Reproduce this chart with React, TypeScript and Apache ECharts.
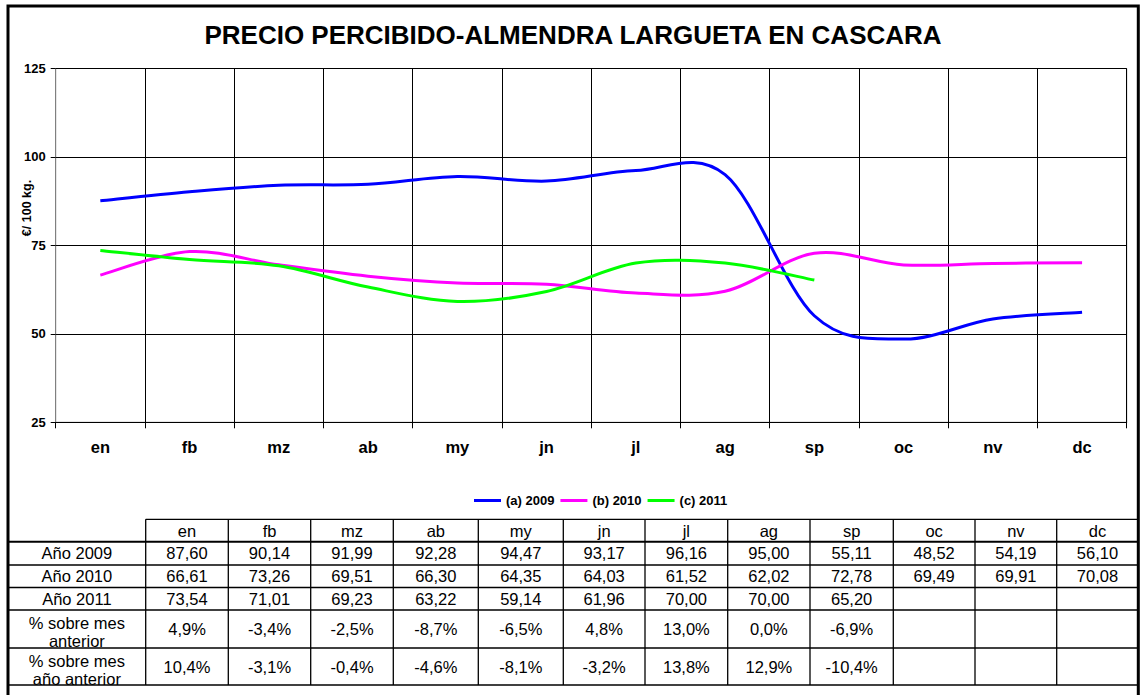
import React, { useEffect, useRef } from 'react';
import * as echarts from 'echarts';

const FONT = '"Liberation Sans", Arial, sans-serif';

const months = ['en', 'fb', 'mz', 'ab', 'my', 'jn', 'jl', 'ag', 'sp', 'oc', 'nv', 'dc'];
const seriesNames = ['(a) 2009', '(b) 2010', '(c) 2011'];
const seriesColors = ['#0000FF', '#FF00FF', '#00FF00'];
const values2009 = [87.6, 90.14, 91.99, 92.28, 94.47, 93.17, 96.16, 95.0, 55.11, 48.52, 54.19, 56.1];
const values2010 = [66.61, 73.26, 69.51, 66.3, 64.35, 64.03, 61.52, 62.02, 72.78, 69.49, 69.91, 70.08];
const values2011 = [73.54, 71.01, 69.23, 63.22, 59.14, 61.96, 70.0, 70.0, 65.2, null, null, null];
const pctPrevMonth = [4.9, -3.4, -2.5, -8.7, -6.5, 4.8, 13.0, 0.0, -6.9, null, null, null];
const pctPrevYear = [10.4, -3.1, -0.4, -4.6, -8.1, -3.2, 13.8, 12.9, -10.4, null, null, null];
const rowLabels = ['Año 2009', 'Año 2010', 'Año 2011', '% sobre mes\nanterior', '% sobre mes\naño anterior'];
const yMin = 25;
const yMax = 125;
const yStep = 25;
const chartTitle = 'PRECIO PERCIBIDO-ALMENDRA LARGUETA EN CASCARA';
const yAxisTitle = '€/ 100 kg.';

// table layout (pixel positions)
const colX = [145.7, 228.3, 310.7, 393.3, 478.3, 563.3, 645, 727.7, 810, 893.3, 975, 1056.7, 1138.3];
const rowY = [519.3, 541.7, 565, 587.5, 610, 648, 685];
const tableLeft = 8;

const fmtNum = (v: number | null) => (v == null ? '' : v.toFixed(2).replace('.', ','));
const fmtPct = (v: number | null) => (v == null ? '' : v.toFixed(1).replace('.', ',') + '%');

function buildTable(): any[] {
  const els: any[] = [];
  const lw = 1.3;
  els.push({ type: 'line', shape: { x1: colX[0], y1: rowY[0], x2: colX[12], y2: rowY[0] }, style: { stroke: '#000', lineWidth: lw } });
  for (let r = 1; r < rowY.length; r++) {
    els.push({ type: 'line', shape: { x1: tableLeft, y1: rowY[r], x2: colX[12], y2: rowY[r] }, style: { stroke: '#000', lineWidth: r === 1 ? 2 : lw } });
  }
  for (let c = 0; c < colX.length; c++) {
    els.push({ type: 'line', shape: { x1: colX[c], y1: rowY[0], x2: colX[c], y2: rowY[6] }, style: { stroke: '#000', lineWidth: lw } });
  }
  const txt = (text: string, x: number, y: number, extra: any = {}) => ({
    type: 'text',
    x,
    y,
    style: { text, fontFamily: FONT, fontSize: 16.5, fill: '#000', align: 'center', verticalAlign: 'middle', ...extra },
  });
  months.forEach((m, i) => {
    els.push(txt(m, (colX[i] + colX[i + 1]) / 2, (rowY[0] + rowY[1]) / 2));
  });
  const rows = [
    values2009.map(fmtNum),
    values2010.map(fmtNum),
    values2011.map(fmtNum),
    pctPrevMonth.map(fmtPct),
    pctPrevYear.map(fmtPct),
  ];
  rows.forEach((row, r) => {
    const cy = (rowY[r + 1] + rowY[r + 2]) / 2;
    const labelY = r >= 3 ? cy + 3 : cy;
    els.push(txt(rowLabels[r], (tableLeft + colX[0]) / 2, labelY, { lineHeight: 18 }));
    row.forEach((s, i) => {
      if (s) els.push(txt(s, (colX[i] + colX[i + 1]) / 2, cy));
    });
  });
  return els;
}

// Catmull-Rom smoothed path through the points mapped by the axes (like Excel's smoothed line)
function makeRenderItem(values: (number | null)[], color: string) {
  return (params: any, api: any) => {
    if (params.dataIndex !== 0) return null;
    const pts: number[][] = [];
    values.forEach((v, i) => {
      if (v != null) pts.push(api.coord([i, v]));
    });
    if (pts.length < 2) return null;
    let d = `M${pts[0][0]},${pts[0][1]}`;
    for (let i = 0; i < pts.length - 1; i++) {
      const p0 = pts[Math.max(0, i - 1)];
      const p1 = pts[i];
      const p2 = pts[i + 1];
      const p3 = pts[Math.min(pts.length - 1, i + 2)];
      const c1x = p1[0] + (p2[0] - p0[0]) / 6;
      const c1y = p1[1] + (p2[1] - p0[1]) / 6;
      const c2x = p2[0] - (p3[0] - p1[0]) / 6;
      const c2y = p2[1] - (p3[1] - p1[1]) / 6;
      d += ` C${c1x},${c1y} ${c2x},${c2y} ${p2[0]},${p2[1]}`;
    }
    return {
      type: 'path',
      shape: { pathData: d },
      style: { fill: 'none', stroke: color, lineWidth: 3, lineJoin: 'round' },
      silent: true,
    };
  };
}

export default function App() {
  const ref = useRef<HTMLDivElement>(null);
  useEffect(() => {
    if (!ref.current) return;
    const chart = echarts.init(ref.current, undefined, { renderer: 'svg' });
    const data = [values2009, values2010, values2011];
    chart.setOption({
      animation: false,
      backgroundColor: '#fff',
      title: {
        text: chartTitle,
        left: 'center',
        top: 17,
        textStyle: { fontFamily: FONT, fontSize: 26, fontWeight: 'bold', color: '#000' },
      },
      legend: {
        data: seriesNames.map((n, i) => ({ name: n, itemStyle: { color: seriesColors[i] } })),
        left: 474,
        top: 494,
        padding: 0,
        itemWidth: 27,
        itemHeight: 3,
        itemGap: 6,
        icon: 'rect',
        textStyle: { fontFamily: FONT, fontSize: 13, fontWeight: 'bold', color: '#000' },
      },
      grid: { left: 55.7, top: 68.5, right: 19.3, bottom: 272.7, show: true, borderColor: '#808080', borderWidth: 1 },
      xAxis: {
        type: 'category',
        data: months,
        boundaryGap: true,
        axisLine: { lineStyle: { color: '#000', width: 1 } },
        axisTick: { show: true, length: 6, lineStyle: { color: '#000' } },
        axisLabel: { fontFamily: FONT, fontSize: 16.5, fontWeight: 'bold', color: '#000', margin: 16 },
        splitLine: { show: true, lineStyle: { color: '#000', width: 1 } },
      },
      yAxis: {
        type: 'value',
        min: yMin,
        max: yMax,
        interval: yStep,
        axisLine: { show: true, lineStyle: { color: '#808080' } },
        axisTick: { show: true, length: 5, lineStyle: { color: '#000' } },
        axisLabel: { fontFamily: FONT, fontSize: 13, fontWeight: 'bold', color: '#000', margin: 10 },
        splitLine: { show: true, lineStyle: { color: '#000', width: 1 } },
      },
      series: seriesNames.map((name, i) => ({
        name,
        type: 'custom',
        coordinateSystem: 'cartesian2d',
        data: data[i].map((v, j) => [j, v == null ? '-' : v]),
        encode: { x: 0, y: 1 },
        itemStyle: { color: seriesColors[i] },
        renderItem: makeRenderItem(data[i], seriesColors[i]),
        z: 3,
      })),
      graphic: [
        {
          type: 'rect',
          shape: { x: 8, y: 6, width: 1130.3, height: 800 },
          style: { fill: 'none', stroke: '#000', lineWidth: 3 },
          z: 100,
        },
        {
          type: 'text',
          x: 27,
          y: 208,
          rotation: Math.PI / 2,
          style: { text: yAxisTitle, fontFamily: FONT, fontSize: 12.5, fontWeight: 'bold', fill: '#000', align: 'center', verticalAlign: 'middle' },
        },
        ...buildTable(),
      ],
    });
    return () => chart.dispose();
  }, []);
  return <div ref={ref} style={{ position: 'absolute', left: 0, top: 0, width: 1146, height: 695 }} />;
}
